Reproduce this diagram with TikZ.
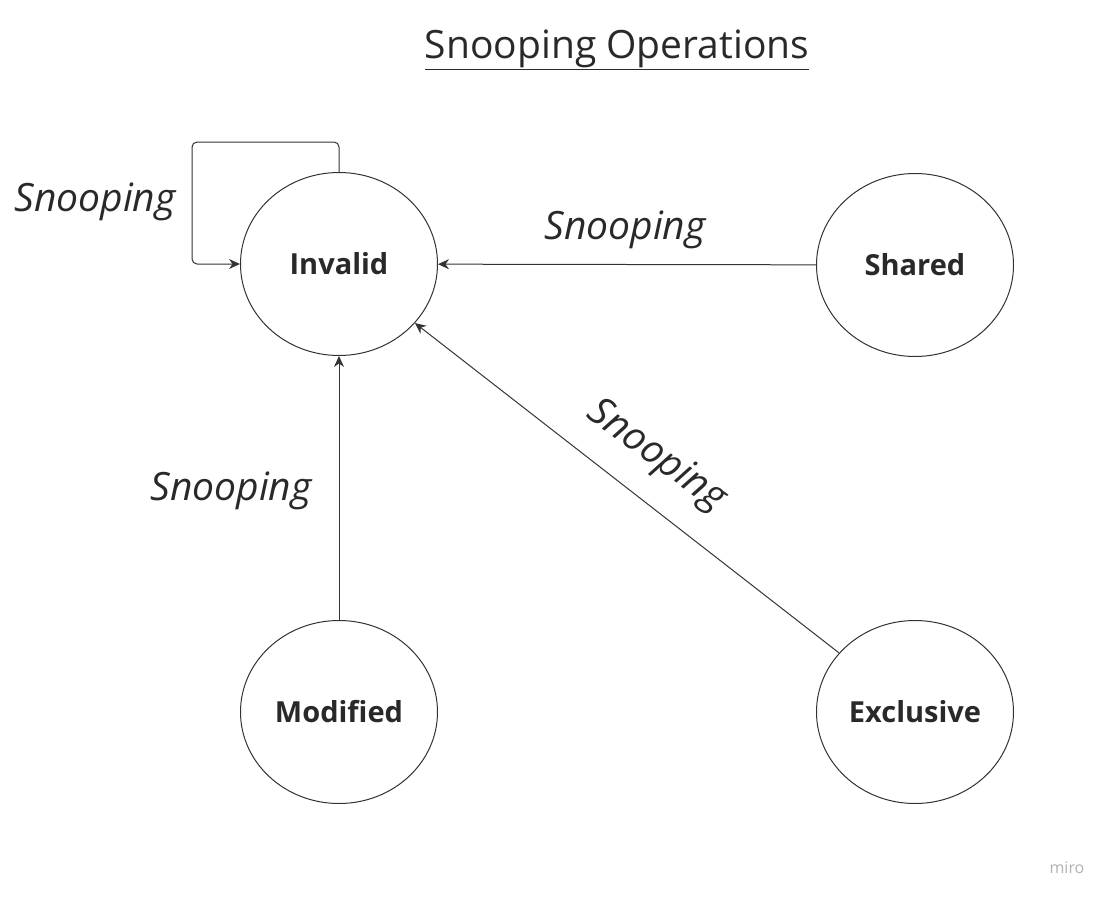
\documentclass[tikz,border=0pt]{standalone}
\usepackage{fontspec}
\setmainfont{Open Sans}
\usetikzlibrary{shapes.geometric,arrows.meta}
\definecolor{ink}{HTML}{333333}
\begin{document}
\begin{tikzpicture}[x=1pt,y=-1pt,
  state/.style={draw=ink,line width=1pt,ellipse,minimum width=197pt,minimum height=183pt,inner sep=0pt,font=\fontsize{29}{34}\selectfont\bfseries,text=ink!80!black},
  conn/.style={draw=ink,line width=1pt,-{Stealth[length=11pt,width=10pt]}},
  lbl/.style={font=\fontsize{39}{45}\selectfont\itshape,text=ink!80!black}]
\useasboundingbox (0,0) rectangle (1111,899);
\node[font=\fontsize{39}{45}\selectfont,text=ink!80!black] (title) at (617,50) {\underline{Snooping Operations}};
\node[state] (Invalid) at (339,264) {Invalid};
\node[state] (Shared) at (915,265) {Shared};
\node[state] (Modified) at (339,712) {Modified};
\node[state] (Exclusive) at (915,712) {Exclusive};
\coordinate (loopL) at (192,142);
\draw[conn,rounded corners=5pt] (Invalid.north) |- (loopL) |- (Invalid.west);
\draw[conn] (Shared) -- (Invalid);
\draw[conn] (Modified) -- (Invalid);
\draw[conn] (Exclusive) -- (Invalid);
\node[lbl] (l1) at (95,202) {Snooping};
\node[lbl] (l2) at (625,230) {Snooping};
\node[lbl] (l3) at (231,491) {Snooping};
\node[lbl,rotate=-36] (l4) at (656,456) {Snooping};
\node[font=\fontsize{16}{18}\selectfont,text=black!30] (miro) at (1067,868) {miro};
\end{tikzpicture}
\end{document}
